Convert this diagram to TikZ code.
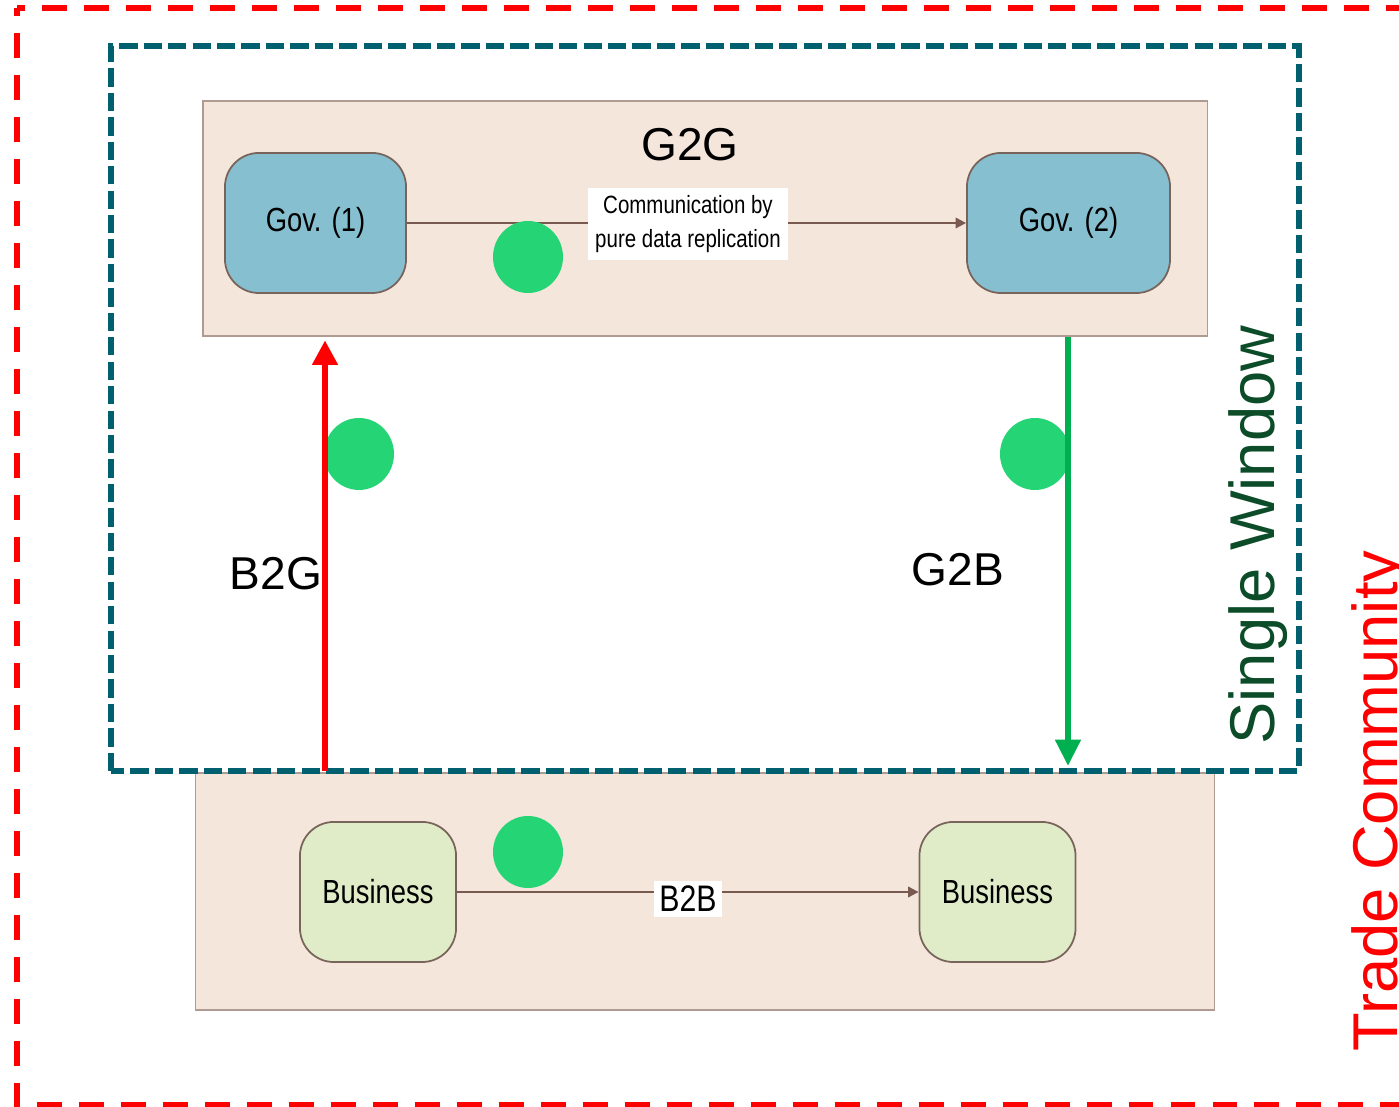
\documentclass[tikz,border=0pt]{standalone}
\usepackage{fontspec}
\setmainfont{Liberation Sans}
\newfontfamily\narrowfont{Liberation Sans}[FakeStretch=0.82]
\usetikzlibrary{arrows.meta}
\definecolor{boxfill}{RGB}{245,230,220}
\definecolor{boxline}{RGB}{175,155,145}
\definecolor{govfill}{RGB}{133,191,208}
\definecolor{busfill}{RGB}{224,236,200}
\definecolor{nodeline}{RGB}{120,100,90}
\definecolor{connline}{RGB}{120,90,80}
\definecolor{dotgreen}{RGB}{37,212,117}
\definecolor{teal}{RGB}{0,96,112}
\definecolor{swgreen}{RGB}{12,76,40}
\definecolor{arrowgreen}{RGB}{0,176,80}
\tikzset{
  region/.style={draw=boxline, line width=0.45pt, fill=boxfill},
  govbox/.style={draw=nodeline, line width=0.5pt, fill=govfill, rounded corners=0.34cm,
    minimum width=1.81cm, minimum height=1.40cm, font=\narrowfont\fontsize{9.5}{11}\selectfont},
  busbox/.style={draw=nodeline, line width=0.5pt, fill=busfill, rounded corners=0.34cm,
    minimum width=1.56cm, minimum height=1.40cm, font=\narrowfont\fontsize{9.5}{11}\selectfont},
  conn/.style={draw=connline, line width=0.6pt, -{Triangle[width=3pt,length=3pt]}},
  dot/.style={fill=dotgreen, draw=none},
  biglabel/.style={font=\fontsize{13.1}{15}\selectfont, inner sep=0pt, anchor=base},
  sidelabel/.style={font=\fontsize{18}{20}\selectfont, inner sep=0pt, rotate=90, anchor=base west},
  reddash/.style={red, line width=1.6pt, dash pattern=on 7.1pt off 4.84pt, dash phase=4.8pt},
}
\begin{document}
\begin{tikzpicture}[x=0.01cm,y=-0.01cm]
\useasboundingbox (0,0) rectangle (1399,1107);
% outer red dashed region
\draw[reddash] (17,8) -- (1420,8);
\draw[reddash] (17,8) -- (17,1105) -- (1420,1105);
% region boxes
\node[region, minimum width=10.04cm, minimum height=2.35cm, inner sep=0pt] (g2gbox) at (705,218.5) {};
\node[region, minimum width=10.18cm, minimum height=2.37cm, inner sep=0pt] (b2bbox) at (705,891.5) {};
% teal single window
\draw[teal, line width=1.5pt, dash pattern=on 5.2pt off 1.75pt] (111,771) -- (111,46) -- (1299,46) -- (1299,771) -- cycle;
% labels
\node[biglabel] (g2g) at (690,161) {G2G};
\node[biglabel] (b2g) at (276,590) {B2G};
\node[biglabel] (g2b) at (958,586) {G2B};
% gov nodes
\node[govbox] (gov1) at (315.5,223) {\raisebox{-0.5pt}{Gov. (1)}};
\node[govbox, minimum width=2.03cm] (gov2) at (1068.5,223) {\raisebox{-0.5pt}{Gov. (2)}};
\draw[conn] (gov1.east) -- (gov2.west);
\node[fill=white, inner sep=2pt, align=center, font=\narrowfont\fontsize{7.1}{9.6}\selectfont] (comm) at (688,224) {Communication by\\pure data replication};
% business nodes
\node[busbox] (bus1) at (378,892) {Business};
\node[busbox] (bus2) at (997.5,892) {Business};
\draw[conn] (bus1.east) -- (bus2.west);
\node[fill=white, inner sep=1.5pt, font=\narrowfont\fontsize{10.5}{12}\selectfont] (b2b) at (688,899) {B2B};
% green dots
\fill[dot] (528,257) ellipse [x radius=35, y radius=36];
\fill[dot] (359,454) ellipse [x radius=35, y radius=36];
\fill[dot] (1035,454) ellipse [x radius=35, y radius=36];
\fill[dot] (528,852) ellipse [x radius=35, y radius=36];
% B2G and G2B arrows
\coordinate (b2gs) at (325,771);
\coordinate (g2be) at (1068,766);
\draw[red, line width=1.7pt, -{Triangle[width=7pt,length=7pt]}, shorten >=1pt] (b2gs) -- (b2gs |- g2gbox.south);
\draw[arrowgreen, line width=1.7pt, -{Triangle[width=7pt,length=7.5pt]}] (g2be |- g2gbox.south) -- (g2be);
% side labels
\node[sidelabel, text=swgreen] (sw) at (1274,745) {Single Window};
\node[sidelabel, text=red] (tc) at (1397,1052) {Trade Community};
\end{tikzpicture}
\end{document}
